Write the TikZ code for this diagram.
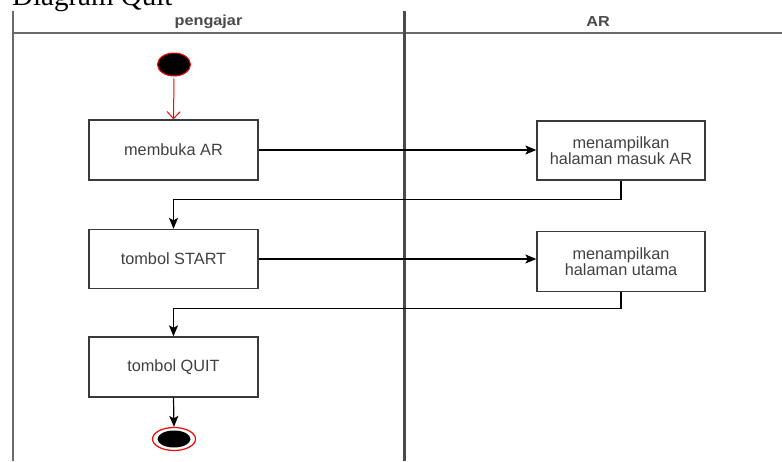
\documentclass[tikz,border=0pt]{standalone}
\usepackage{fontspec}
\usepackage{graphicx}
\setmainfont{Liberation Serif}
\newfontfamily\boxfont{Liberation Sans}
\usetikzlibrary{arrows.meta,shapes.geometric}
\definecolor{lanegray}{HTML}{6A6A6A}
\definecolor{divgray}{HTML}{4A4A4A}
\definecolor{boxline}{HTML}{3A3A3A}
\definecolor{boxtext}{HTML}{404040}
\definecolor{headtext}{HTML}{4A4A4A}
\tikzset{
  lane/.style={draw=lanegray, line width=2pt},
  divider/.style={draw=divgray, line width=3pt},
  lanehead/.style={font=\boxfont\bfseries\fontsize{14.5}{15}\selectfont, text=headtext},
  action/.style={draw=boxline, line width=1.3pt, rectangle, inner sep=0pt,
    minimum width=169pt, minimum height=60pt, align=center,
    font=\boxfont\fontsize{16.3}{15.5}\selectfont, text=boxtext},
  flow/.style={draw=black, line width=1.2pt, -{Stealth[length=11pt,width=9pt,inset=2.5pt]}},
  startflow/.style={draw=red, line width=1pt, -{Straight Barb[length=7pt,width=13pt]}},
  initial/.style={ellipse, fill=black, draw=red, line width=1pt,
    minimum width=33pt, minimum height=23pt, inner sep=0pt},
  finalring/.style={ellipse, draw=red, fill=white, line width=1.2pt,
    minimum width=43pt, minimum height=23pt, inner sep=0pt},
  finaldot/.style={ellipse, fill=black, minimum width=33pt, minimum height=17pt, inner sep=0pt}
}
\begin{document}
\begin{tikzpicture}[x=1pt, y=-1pt]
  \useasboundingbox (0,0) rectangle (782,461);

  % title, partly above the page edge
  \node[anchor=base west, inner sep=0pt, font=\fontsize{29}{29}\selectfont] (title) at (12,5) {Diagram Quit};

  % swimlane frame
  \coordinate (laneTL) at (13,11);
  \coordinate (laneBL) at (13,461);
  \coordinate (headL) at (13,33);
  \coordinate (headR) at (782,33);
  \coordinate (divT) at (404,11);
  \coordinate (divB) at (404,461);
  \draw[lane] (laneTL) -- (laneBL);
  \draw[draw=lanegray, line width=1.5pt] (headL) -- (headR);
  \draw[divider] (divT) -- (divB);

  \node[lanehead] (laneP) at (208.5,22) {\scalebox{1.12}[1]{pengajar}};
  \node[lanehead] (laneA) at (598,22) {\scalebox{1.12}[1]{AR}};

  % activities
  \node[initial] (start) at (174,64.5) {};
  \node[action] (b1) at (173.5,150) {membuka AR};
  \node[action, minimum width=168pt, minimum height=59pt] (a1) at (621,150.5) {menampilkan\\halaman masuk AR};
  \node[action, minimum height=59pt] (b2) at (173.5,259) {tombol START};
  \node[action, minimum width=168pt] (a2) at (621,261.5) {menampilkan\\halaman utama};
  \node[action] (b3) at (173.5,367) {tombol QUIT};
  \node[finalring] (endR) at (174,439) {};
  \node[finaldot] (endD) at (174,439) {};

  % flows
  \draw[startflow] (start.south) ++(0,2) -- (b1.north);
  \draw[flow] (b1.east) -- (b1.east -| a1.west);
  \draw[flow] (a1.south) -- ++(0,18.5) -| (b2.north);
  \draw[flow] (b2.east) -- (b2.east -| a2.west);
  \draw[flow] (a2.south) -- ++(0,16.5) -| (b3.north);
  \draw[flow] (b3.south) -- (endR.north);
\end{tikzpicture}
\end{document}
